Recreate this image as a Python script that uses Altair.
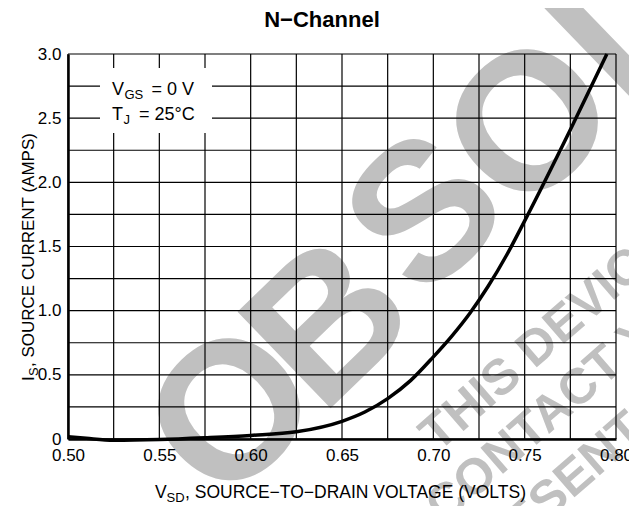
import altair as alt
import pandas as pd

# ---------------- data ----------------
vsd = [0.500, 0.510, 0.525, 0.550, 0.575, 0.600, 0.625, 0.650, 0.6625, 0.675, 0.6875, 0.700,
       0.710, 0.720, 0.730, 0.740, 0.750, 0.775, 0.795]
i_s = [0.018, 0.005, -0.010, -0.004, 0.010, 0.028, 0.056, 0.138, 0.210, 0.315, 0.455, 0.640,
       0.800, 0.980, 1.190, 1.430, 1.700, 2.410, 3.000]

x_ticks = [0.50, 0.55, 0.60, 0.65, 0.70, 0.75, 0.80]
y_ticks = [0.0, 0.5, 1.0, 1.5, 2.0, 2.5, 3.0]
x_grid = [0.500, 0.525, 0.550, 0.575, 0.600, 0.625, 0.650, 0.675, 0.700, 0.725, 0.750, 0.775, 0.800]
y_grid = [0.00, 0.25, 0.50, 0.75, 1.00, 1.25, 1.50, 1.75, 2.00, 2.25, 2.50, 2.75, 3.00]

title_text = "N\u2212Channel"
x_title = ["V", "SD", ", SOURCE\u2212TO\u2212DRAIN VOLTAGE (VOLTS)"]
y_title = ["I", "S", ", SOURCE CURRENT (AMPS)"]
legend_l1 = ["V", "GS", "= 0 V"]
legend_l2 = ["T", "J", "= 25\u00b0C"]
watermark_big = ["O", "B", "S", "O", "L"]
watermark_small = ["THIS DEVICE IS OBSOLETE", "CONTACT YOUR ON SEMICONDUCTOR", "REPRESENTATIVE FOR INFORMATION"]

# ---------------- styling ----------------
FONT = "Liberation Sans, Arial, Helvetica, sans-serif"
W, H = 548, 385
GRAY = "#c0c0c0"

xs = alt.Scale(domain=[0.5, 0.8], nice=False, zero=False)
ys = alt.Scale(domain=[0, 3], nice=False, zero=False)

x_axis = alt.Axis(
    values=x_ticks, format=".2f", title=None, grid=False, ticks=False,
    domainWidth=2.5, domainColor="black", labelFontSize=17, labelFont=FONT,
    labelColor="black", labelPadding=8, labelFlush=False, labelOverlap=False, zindex=1)
y_axis = alt.Axis(
    values=y_ticks, labelExpr="datum.value == 0 ? '0' : format(datum.value, '.1f')",
    title=None, grid=False, ticks=False, domainWidth=2.5, domainColor="black",
    labelFontSize=17, labelFont=FONT, labelColor="black", labelPadding=7,
    labelFlush=False, labelOverlap=False, zindex=1)

df_curve = pd.DataFrame({"vsd": vsd, "is": i_s})
dummy = pd.DataFrame({"_": [0]})


def txt(t, x, y, size, weight="normal", angle=0, align="left", color="black", baseline="alphabetic"):
    return alt.Chart(dummy).mark_text(
        text=t, font=FONT, fontWeight=weight, fontSize=size, angle=angle,
        align=align, baseline=baseline, color=color
    ).encode(x=alt.value(x), y=alt.value(y))


# watermark (behind everything); big letters placed one by one
big_pos = [(167, 361), (263, 272), (360, 162), (465, 72), (562, -24)]
wm = [
    txt(ch, px, py, 195, weight="bold", angle=316, align="center", color=GRAY, baseline="middle")
    for ch, (px, py) in zip(watermark_big, big_pos)
]
wm += [
    txt(watermark_small[0], 360, 388, 50, weight="bold", angle=319, color=GRAY, baseline="middle"),
    txt(watermark_small[1], 366, 460, 50, weight="bold", angle=319, color=GRAY, baseline="middle"),
    txt(watermark_small[2], 339, 569, 50, weight="bold", angle=319, color=GRAY, baseline="middle"),
]

vgrid = alt.Chart(pd.DataFrame({"vsd": x_grid})).mark_rule(color="black", strokeWidth=1.2).encode(
    x=alt.X("vsd:Q", scale=xs, axis=x_axis)
)
hgrid = alt.Chart(pd.DataFrame({"is": y_grid})).mark_rule(color="black", strokeWidth=1.2).encode(
    y=alt.Y("is:Q", scale=ys, axis=y_axis)
)

box = alt.Chart(dummy).mark_rect(color="white").encode(
    x=alt.value(32), x2=alt.value(144), y=alt.value(14), y2=alt.value(79)
)

legend = [
    txt(legend_l1[0], 44, 41, 18),
    txt(legend_l1[1], 56.5, 45, 13),
    txt(legend_l1[2], 83.5, 41, 18),
    txt(legend_l2[0], 44, 65.5, 18),
    txt(legend_l2[1], 55.5, 69.5, 13),
    txt(legend_l2[2], 71, 65.5, 18),
]

curve = alt.Chart(df_curve).mark_line(color="black", strokeWidth=3.5, interpolate="monotone").encode(
    x=alt.X("vsd:Q", scale=xs, axis=x_axis),
    y=alt.Y("is:Q", scale=ys, axis=y_axis),
)

titles = [
    txt(title_text, 254, -27, 22, weight="bold", align="center"),
    txt(x_title[0], 87, 444, 17.5),
    txt(x_title[1], 98.5, 448, 13),
    txt(x_title[2], 117, 444, 17.5),
    txt(y_title[0], -34, 327, 17, angle=270),
    txt(y_title[1], -30.5, 322, 13, angle=270),
    txt(y_title[2], -34, 313, 17, angle=270),
]

chart = alt.layer(*wm, vgrid, hgrid, box, *legend, curve, *titles).properties(
    width=W, height=H,
    autosize=alt.AutoSizeParams(type="none"),
    padding={"left": 60, "top": 46, "right": 13, "bottom": 67},
    background="white",
).configure_view(stroke=None)

chart.save("out.html", embed_options={"renderer": "svg", "actions": False})
